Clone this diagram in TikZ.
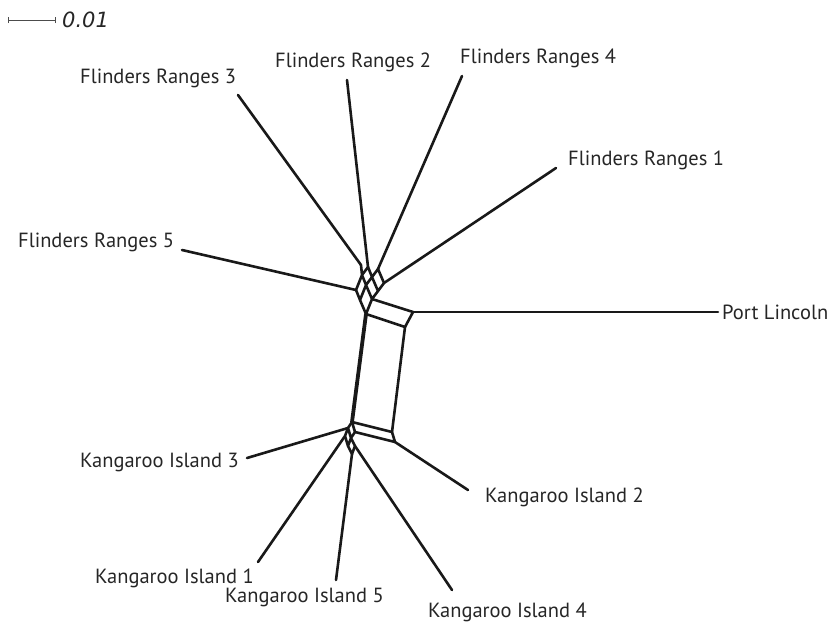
\documentclass[tikz,border=0pt]{standalone}
\usepackage{fontspec}
\setmainfont{PT Sans}
\newfontfamily\scalefont{DejaVu Sans}
\begin{document}
\begin{tikzpicture}[x=1pt,y=-1pt,
  edge/.style={line width=2.6pt,line join=round,line cap=round,black!90},
  thickedge/.style={line width=3.8pt,line join=round,line cap=round,black!90},
  lab/.style={anchor=west,inner sep=0pt,font=\fontsize{20.5}{23}\selectfont,text=black!85},
  pt/.style={inner sep=0pt,minimum size=0pt}]
\useasboundingbox (0,0) rectangle (840,630);
% scale bar
\coordinate (s1) at (8,20);
\coordinate (s2) at (55,20);
\draw[line width=1pt,black!70] (s1) -- (s2);
\draw[line width=1pt,black!70] ([yshift=-3]s1) -- ([yshift=3]s1);
\draw[line width=1pt,black!70] ([yshift=-3]s2) -- ([yshift=3]s2);
\node[lab,font=\scalefont\fontsize{21}{23}\selectfont\itshape] (sc) at (62,20) {0.01};
% internal nodes
\coordinate (B) at (366,314);
\coordinate (T) at (372,299);
\coordinate (h1) at (360,300);
\coordinate (h2) at (366,285);
\coordinate (k1) at (356,290);
\coordinate (j1) at (362,275);
\coordinate (m1) at (378,291);
\coordinate (j2) at (372,277);
\coordinate (o1) at (368,267);
\coordinate (v) at (378,269);
\coordinate (u) at (384,283);
\coordinate (f3) at (361,265);
\coordinate (P) at (413,312);
\coordinate (Q) at (405,327);
\coordinate (L) at (352,422);
\coordinate (R) at (392,432);
\coordinate (L2) at (355,432);
\coordinate (R2) at (395,442);
\coordinate (q1) at (348,428);
\coordinate (q2) at (351,438);
\coordinate (r1) at (345,436);
\coordinate (r2) at (348,446);
\coordinate (s1b) at (355,446);
\coordinate (s2b) at (352,454);
% leaf endpoints
\coordinate (lFR3) at (238,95);
\coordinate (lFR2) at (347,80);
\coordinate (lFR4) at (462,76);
\coordinate (lFR1) at (556,168);
\coordinate (lFR5) at (182,250);
\coordinate (lPL) at (718,312);
\coordinate (lKI2) at (468,490);
\coordinate (lKI3) at (247,458);
\coordinate (lKI1) at (258,562);
\coordinate (lKI5) at (336,580);
\coordinate (lKI4) at (452,590);
% top cluster
\draw[edge] (T) -- (B) (B) -- (h1) (T) -- (h2) (h1) -- (h2)
  (h1) -- (k1) (h2) -- (j1) (k1) -- (j1)
  (T) -- (m1) (h2) -- (j2) (m1) -- (j2)
  (j1) -- (o1) (j2) -- (o1) (j2) -- (v) (m1) -- (u) (v) -- (u)
  (j1) -- (f3);
% central box
\draw[edge] (T) -- (P) -- (Q) -- (B);
\draw[thickedge] (B) -- (L);
\draw[edge] (Q) -- (R);
\draw[edge] (L) -- (R) -- (R2) -- (L2) -- (L);
% bottom cluster
\draw[edge] (L) -- (q1) (L2) -- (q2) (q1) -- (q2)
  (q1) -- (r1) (q2) -- (r2) (r1) -- (r2)
  (q2) -- (s1b) (r2) -- (s2b) (s1b) -- (s2b);
% leaves
\draw[edge] (lFR3) -- (f3);
\draw[edge] (lFR2) -- (o1);
\draw[edge] (lFR4) -- (v);
\draw[edge] (lFR1) -- (u);
\draw[edge] (lFR5) -- (k1);
\draw[edge] (lPL) -- (P);
\draw[edge] (lKI2) -- (R2);
\draw[edge] (lKI3) -- (q1);
\draw[edge] (lKI1) -- (r1);
\draw[edge] (lKI5) -- (s2b);
\draw[edge] (lKI4) -- (s1b);
% labels
\node[lab] (tFR3) at (80,78) {Flinders Ranges 3};
\node[lab] (tFR2) at (275,62) {Flinders Ranges 2};
\node[lab] (tFR4) at (460,58) {Flinders Ranges 4};
\node[lab] (tFR1) at (568,160) {Flinders Ranges 1};
\node[lab] (tFR5) at (18,242) {Flinders Ranges 5};
\node[lab] (tPL) at (722,312) {Port Lincoln};
\node[lab] (tKI3) at (80,462) {Kangaroo Island 3};
\node[lab] (tKI2) at (485,497) {Kangaroo Island 2};
\node[lab] (tKI1) at (95,578) {Kangaroo Island 1};
\node[lab] (tKI5) at (225,597) {Kangaroo Island 5};
\node[lab] (tKI4) at (428,612) {Kangaroo Island 4};
\end{tikzpicture}
\end{document}
